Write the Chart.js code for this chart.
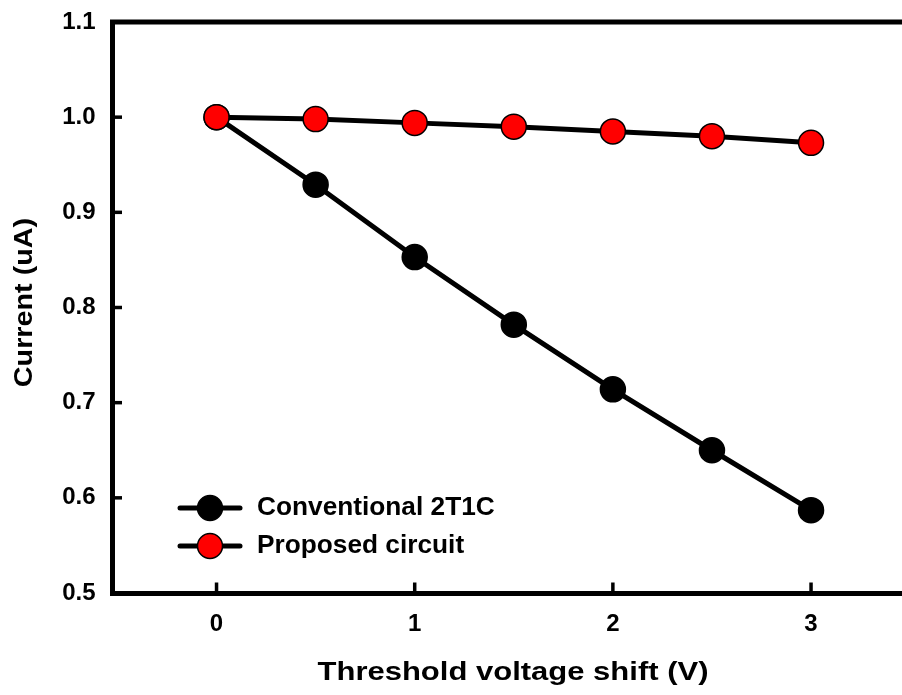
<!DOCTYPE html>
<html>
<head>
<meta charset="utf-8">
<title>Current vs threshold voltage shift</title>
<script src="https://cdn.jsdelivr.net/npm/chart.js@4/dist/chart.umd.min.js"></script>
<style>
  html, body { margin: 0; padding: 0; background: #fff; overflow: hidden; }
  canvas { display: block; }
</style>
</head>
<body>
<canvas id="c" width="902" height="695"></canvas>
<script>
// Threshold voltage shift (V)
const shifts = [0, 0.5, 1, 1.5, 2, 2.5, 3];
// Output current (uA) for each circuit
const conventional = [1.000, 0.929, 0.853, 0.782, 0.714, 0.650, 0.587];
const proposed = [1.000, 0.998, 0.994, 0.990, 0.985, 0.980, 0.973];

const xTicks = [0, 1, 2, 3];
const yTicks = [0.5, 0.6, 0.7, 0.8, 0.9, 1.0, 1.1];

const seriesNames = ['Conventional 2T1C', 'Proposed circuit'];
const xTitle = 'Threshold voltage shift (V)';
const yTitle = 'Current (uA)';

const FONT = '"Liberation Sans", Arial, Helvetica, sans-serif';
const AXIS_W = 5;

const toPoints = (ys) => shifts.map((x, i) => ({ x, y: ys[i] }));

// Horizontally stretched bold text, centred on (x, y)
function wideText(ctx, text, x, y, size, stretch, angle) {
  ctx.save();
  ctx.translate(x, y);
  if (angle) ctx.rotate(angle);
  ctx.scale(stretch, 1);
  ctx.font = 'bold ' + size + 'px ' + FONT;
  ctx.fillStyle = '#000';
  ctx.textAlign = 'center';
  ctx.textBaseline = 'middle';
  ctx.fillText(text, 0, 0);
  ctx.restore();
}

// Frame extras: top border, inward tick marks, axis titles and the legend
const decorations = {
  id: 'decorations',
  beforeDatasetsDraw(chart) {
    const { ctx, chartArea, scales } = chart;
    ctx.save();
    ctx.strokeStyle = '#000';
    ctx.lineCap = 'butt';
    // top border
    ctx.lineWidth = AXIS_W;
    ctx.beginPath();
    ctx.moveTo(chartArea.left - AXIS_W / 2, chartArea.top);
    ctx.lineTo(chartArea.right + AXIS_W, chartArea.top);
    ctx.stroke();
    // inward ticks
    ctx.lineWidth = 3.5;
    yTicks.forEach(v => {
      const py = scales.y.getPixelForValue(v);
      if (py <= chartArea.top + 1 || py >= chartArea.bottom - 1) return;
      ctx.beginPath();
      ctx.moveTo(chartArea.left, py);
      ctx.lineTo(chartArea.left + 9.5, py);
      ctx.stroke();
    });
    xTicks.forEach(v => {
      const px = scales.x.getPixelForValue(v);
      ctx.beginPath();
      ctx.moveTo(px, chartArea.bottom);
      ctx.lineTo(px, chartArea.bottom - 10.5);
      ctx.stroke();
    });
    ctx.restore();
  },
  afterDraw(chart) {
    const { ctx, chartArea } = chart;
    // axis titles
    wideText(ctx, xTitle, 513, 673, 25, 1.24, 0);
    wideText(ctx, yTitle, 25, (chartArea.top + chartArea.bottom) / 2 - 5, 25, 1.15, -Math.PI / 2);

    // legend
    const rows = [
      { label: seriesNames[0], fill: '#000000', y: 508 },
      { label: seriesNames[1], fill: '#ff0000', y: 546 }
    ];
    rows.forEach(r => {
      ctx.save();
      ctx.strokeStyle = '#000';
      ctx.lineWidth = 5;
      ctx.lineCap = 'round';
      ctx.beginPath();
      ctx.moveTo(180, r.y);
      ctx.lineTo(240, r.y);
      ctx.stroke();
      ctx.beginPath();
      ctx.arc(210, r.y, 12.5, 0, Math.PI * 2);
      ctx.fillStyle = r.fill;
      ctx.fill();
      ctx.lineWidth = 1.5;
      ctx.stroke();
      ctx.translate(257, r.y);
      ctx.scale(1.05, 1);
      ctx.font = 'bold 25px ' + FONT;
      ctx.fillStyle = '#000';
      ctx.textAlign = 'left';
      ctx.textBaseline = 'middle';
      ctx.fillText(r.label, 0, 0);
      ctx.restore();
    });
  }
};

new Chart(document.getElementById('c'), {
  type: 'line',
  data: {
    datasets: [
      {
        label: seriesNames[0],
        data: toPoints(conventional),
        borderColor: '#000',
        borderWidth: 5,
        pointRadius: 12.5,
        pointHoverRadius: 12.5,
        pointBackgroundColor: '#000',
        pointBorderColor: '#000',
        pointBorderWidth: 1.5,
        order: 2,
        clip: false
      },
      {
        label: seriesNames[1],
        data: toPoints(proposed),
        borderColor: '#000',
        borderWidth: 5,
        pointRadius: 12.5,
        pointHoverRadius: 12.5,
        pointBackgroundColor: '#ff0000',
        pointBorderColor: '#000',
        pointBorderWidth: 1.5,
        order: 1,
        clip: false
      }
    ]
  },
  options: {
    responsive: false,
    animation: false,
    devicePixelRatio: 1,
    layout: { autoPadding: false, padding: { top: 22, right: 0, bottom: 0, left: 0 } },
    plugins: {
      legend: { display: false },
      tooltip: { enabled: false }
    },
    scales: {
      x: {
        type: 'linear',
        min: -0.525,
        max: 3.459,
        afterBuildTicks: s => { s.ticks = xTicks.map(v => ({ value: v })); },
        afterFit: s => { s.height = 102; s.paddingLeft = 0; s.paddingRight = 0; },
        grid: { display: false, drawTicks: false },
        border: { display: true, color: '#000', width: AXIS_W },
        ticks: {
          color: '#000',
          padding: 17,
          maxRotation: 0,
          font: { family: FONT, size: 24, weight: 'bold' },
          callback: v => String(v)
        }
      },
      y: {
        type: 'linear',
        min: 0.5,
        max: 1.1,
        afterBuildTicks: s => { s.ticks = yTicks.map(v => ({ value: v })); },
        afterFit: s => { s.width = 112.5; s.paddingTop = 0; s.paddingBottom = 0; },
        grid: { display: false, drawTicks: false },
        border: { display: true, color: '#000', width: AXIS_W },
        ticks: {
          color: '#000',
          padding: 17,
          font: { family: FONT, size: 24, weight: 'bold' },
          callback: v => v.toFixed(1)
        }
      }
    }
  },
  plugins: [decorations]
});
</script>
</body>
</html>
